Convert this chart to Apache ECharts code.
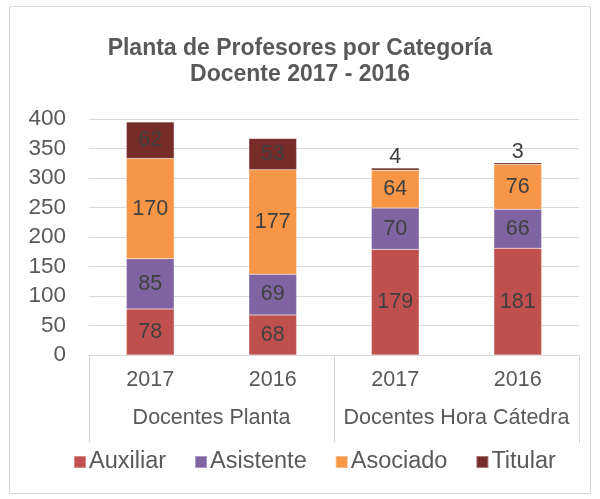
<!DOCTYPE html>
<html>
<head>
<meta charset="utf-8">
<script src="https://cdn.jsdelivr.net/npm/echarts@6/dist/echarts.min.js"></script>
<style>
    html, body { margin: 0; padding: 0; background: #fff; }
    #chart { width: 600px; height: 499px; }
</style>
</head>
<body>
<div id="chart"></div>
<script>
// 数据
const years = ['2017', '2016', '2017', '2016'];
const groups = ['Docentes Planta', 'Docentes Hora Cátedra'];
const auxiliar = [78, 68, 179, 181];
const asistente = [85, 69, 70, 66];
const asociado = [170, 177, 64, 76];
const titular = [62, 53, 4, 3];

const FONT = 'Liberation Sans, Arial, sans-serif';
const TEXT = '#595959';

// 小数值放在柱顶
function withLabels(values) {
    return values.map(v => v < 10
        ? { value: v, label: { position: 'top', distance: 0 } }
        : v);
}

function makeSeries(name, values, color) {
    return {
        name: name,
        type: 'bar',
        stack: 'total',
        barWidth: '39%',
        xAxisIndex: 0,
        itemStyle: { color: color, borderColor: 'rgba(255,255,255,0.35)', borderWidth: 0.5 },
        label: {
            show: true,
            position: 'inside',
            fontFamily: FONT,
            fontSize: 21.5,
            color: '#404040'
        },
        data: withLabels(values)
    };
}

const chart = echarts.init(document.getElementById('chart'));
chart.setOption({
    animation: false,
    textStyle: { fontFamily: FONT },
    title: {
        text: 'Planta de Profesores por Categoría\nDocente 2017 - 2016',
        left: 'center',
        top: 31,
        textStyle: { fontFamily: FONT, fontSize: 23, fontWeight: 'bold', color: TEXT, lineHeight: 26 }
    },
    graphic: [{
        type: 'rect',
        shape: { x: 9.5, y: 6.5, width: 581, height: 487 },
        style: { fill: 'none', stroke: '#d9d9d9', lineWidth: 1 },
        silent: true
    }],
    grid: { left: 89, right: 21, top: 119, bottom: 144 },
    legend: {
        bottom: 20,
        left: 68,
        itemWidth: 12,
        itemHeight: 12,
        itemGap: 28,
        icon: 'rect',
        textStyle: { fontFamily: FONT, fontSize: 23.5, color: TEXT, padding: [0, 0, 0, -2] }
    },
    xAxis: [{
        type: 'category',
        data: years,
        axisLine: { lineStyle: { color: '#d9d9d9' } },
        axisTick: { show: false },
        axisLabel: { fontFamily: FONT, fontSize: 21.5, color: TEXT, margin: 14, interval: 0 }
    }, {
        type: 'category',
        data: groups,
        position: 'bottom',
        axisLine: { lineStyle: { color: '#d9d9d9' } },
        axisTick: { show: true, length: 88, lineStyle: { color: '#d9d9d9' } },
        axisLabel: { fontFamily: FONT, fontSize: 21.5, color: TEXT, margin: 52, interval: 0 }
    }],
    yAxis: {
        type: 'value',
        min: 0,
        max: 400,
        interval: 50,
        axisLine: { show: false },
        axisTick: { show: false },
        axisLabel: { fontFamily: FONT, fontSize: 22.5, color: TEXT, margin: 23 },
        splitLine: { lineStyle: { color: '#d9d9d9' } }
    },
    series: [
        makeSeries('Auxiliar', auxiliar, '#C0504D'),
        makeSeries('Asistente', asistente, '#8064A2'),
        makeSeries('Asociado', asociado, '#F79646'),
        makeSeries('Titular', titular, '#772C2A')
    ]
});
</script>
</body>
</html>
